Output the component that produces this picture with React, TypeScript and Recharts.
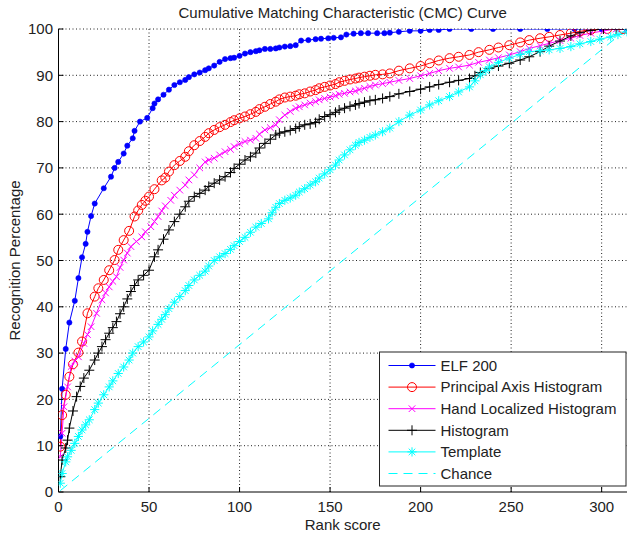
import React from 'react';
import { LineChart, Line, XAxis, YAxis, CartesianGrid } from 'recharts';

const TITLE = 'Cumulative Matching Characteristic (CMC) Curve';
const X_LABEL = 'Rank score';
const Y_LABEL = 'Recognition Percentage';
const X_TICKS = [0, 50, 100, 150, 200, 250, 300];
const Y_TICKS = [0, 10, 20, 30, 40, 50, 60, 70, 80, 90, 100];

const elfRanks = [1, 2, 4, 6, 9, 11, 13, 15, 16, 18, 20, 25, 29, 31, 33, 36, 38, 41, 42, 45, 49, 52, 53, 55, 58, 61, 64, 67, 70, 72, 75, 78, 81, 83, 86, 89, 92, 95, 97, 100, 103, 106, 109, 111, 114, 117, 120, 122, 125, 128, 131, 134, 138, 142, 145, 149, 152, 156, 159, 163, 167, 171, 176, 180, 183, 188, 194, 200, 205, 210, 216, 228, 240, 255, 270, 285, 300, 314];
const elfValues = [12, 22.3, 30.9, 36.6, 41.3, 46.2, 50.7, 53.6, 56.2, 59.6, 62.3, 65.6, 68.1, 70, 71.3, 73.1, 74.8, 76.4, 78, 80, 80.8, 82.9, 83.9, 84.8, 85.8, 86.9, 87.9, 88.5, 89, 89.6, 90.2, 90.6, 91.1, 91.5, 92.1, 92.9, 93.5, 93.7, 93.8, 94.2, 94.7, 95, 95.2, 95.4, 95.7, 95.7, 95.8, 96, 96.2, 96.3, 96.5, 97.5, 97.6, 97.8, 97.9, 98, 98.1, 98.2, 98.8, 99, 99.1, 99.1, 99.1, 99.1, 99.2, 99.4, 99.6, 99.6, 99.8, 99.8, 100, 100, 100, 100, 100, 100, 100, 100];

const pahRanks = [1, 2, 4, 6, 8, 11, 13, 16, 20, 22, 25, 28, 31, 33, 36, 39, 42, 44, 46, 48, 50, 53, 57, 59, 61, 64, 67, 70, 72, 75, 78, 81, 83, 86, 89, 92, 95, 97, 100, 103, 106, 109, 111, 114, 117, 120, 122, 125, 128, 131, 133, 136, 139, 142, 144, 147, 150, 153, 155, 158, 161, 164, 166, 169, 172, 175, 179, 183, 188, 194, 200, 205, 210, 216, 221, 227, 232, 238, 243, 249, 255, 260, 266, 271, 277, 283, 288, 294, 303, 312];
const pahValues = [9.8, 16.6, 21, 24.9, 27.6, 30.1, 32.5, 38.6, 42.2, 44, 45.8, 47.9, 50.1, 52.3, 54.4, 56.4, 59.5, 60.8, 62, 62.9, 63.8, 65.4, 67.3, 67.9, 69.2, 70.6, 71.5, 72.4, 73.6, 74.9, 75.8, 76.7, 77.5, 78.2, 78.8, 79.3, 79.9, 80.3, 80.7, 81.1, 81.6, 82.1, 82.7, 83.2, 83.8, 84.3, 84.8, 85.2, 85.4, 85.6, 85.9, 86.1, 86.5, 86.8, 87.2, 87.5, 87.8, 88.1, 88.5, 88.8, 89.1, 89.3, 89.5, 89.7, 89.9, 90.1, 90.2, 90.4, 91, 91.5, 92, 92.6, 93.2, 93.7, 94, 94.4, 95, 95.5, 96, 96.5, 97.1, 97.6, 98, 98.3, 98.7, 99.1, 99.5, 99.8, 100, 100];

const hlhRanks = [1, 2, 3, 5, 7, 9, 11, 14, 16, 18, 21, 24, 26, 28, 30, 32, 34, 36, 38, 40, 43, 46, 48, 51, 53, 55, 57, 59, 62, 64, 67, 70, 72, 75, 78, 81, 83, 86, 89, 92, 95, 97, 100, 103, 106, 109, 111, 114, 117, 120, 122, 125, 128, 131, 133, 136, 139, 142, 144, 147, 150, 153, 155, 158, 161, 164, 166, 169, 172, 175, 179, 183, 188, 194, 200, 205, 210, 216, 221, 227, 232, 238, 243, 249, 255, 260, 266, 271, 277, 283, 288, 294, 301, 308, 314];
const hlhValues = [7.6, 12.7, 18.4, 22.7, 27.1, 28.3, 29.2, 32.1, 34, 35.7, 38.6, 41.5, 43, 44.3, 45.5, 46.5, 48.5, 50.1, 51.6, 53, 54.1, 55.1, 56.2, 57.3, 58.4, 59.5, 60.7, 61.8, 63, 64.1, 65.2, 66.3, 67.4, 68.5, 70, 71.3, 71.7, 72.1, 72.8, 73.5, 74, 74.6, 75.2, 75.7, 76, 76.4, 77.3, 78.2, 78.7, 79.3, 80.4, 81.4, 82.2, 82.9, 83.2, 83.6, 84, 84.3, 84.7, 85, 85.3, 85.6, 85.9, 86.1, 86.4, 86.6, 86.9, 87.2, 87.6, 87.9, 88.2, 88.5, 88.9, 89.3, 89.9, 90.4, 91, 91.5, 91.8, 92.2, 92.8, 93.3, 93.8, 94.4, 95.1, 95.8, 96.4, 96.9, 97.5, 98, 98.6, 99.1, 99.6, 100, 100];

const histRanks = [1, 2, 4, 5, 6, 8, 10, 12, 14, 17, 20, 22, 24, 26, 28, 30, 32, 34, 36, 38, 40, 42, 44, 47, 50, 53, 55, 58, 61, 64, 67, 70, 72, 75, 78, 81, 83, 86, 89, 92, 95, 97, 100, 103, 106, 109, 111, 114, 117, 120, 122, 125, 128, 131, 133, 136, 139, 142, 144, 147, 150, 153, 155, 158, 161, 164, 166, 169, 172, 175, 179, 183, 188, 194, 200, 205, 210, 216, 221, 227, 230, 233, 238, 243, 249, 255, 260, 266, 271, 277, 283, 288, 294, 301, 308, 314];
const histValues = [3.3, 6.9, 9.5, 11.2, 13.8, 17.5, 20.6, 22.8, 24.6, 26.3, 28.5, 30, 31.4, 32.9, 34.3, 35.5, 36.8, 38.5, 40, 41.7, 43.3, 44.6, 45.8, 46.8, 47.9, 50.8, 52.3, 54.6, 56.6, 58.4, 60, 61.6, 62.8, 63.8, 64.5, 65.2, 66, 66.7, 67.4, 68.1, 69, 69.9, 70.8, 71.7, 72.4, 73.2, 74.3, 75.3, 76.2, 77.1, 77.5, 77.8, 78.1, 78.5, 78.9, 79.3, 79.5, 79.8, 80.5, 81.1, 81.5, 82, 82.5, 82.9, 83.3, 83.6, 83.9, 84.2, 84.5, 84.7, 85, 85.4, 86, 86.5, 87, 87.5, 88, 88.5, 88.9, 89.3, 89.9, 90.6, 91.5, 92, 92.6, 93.3, 94, 95.1, 96.3, 97.4, 98.5, 99.2, 99.7, 100, 100, 100];

const tmplRanks = [1, 2, 4, 5, 7, 9, 11, 13, 15, 17, 20, 22, 25, 28, 30, 33, 36, 39, 41, 44, 47, 50, 52, 55, 57, 59, 61, 64, 67, 70, 72, 75, 78, 81, 83, 86, 89, 92, 95, 97, 100, 103, 106, 109, 112, 116, 118, 120, 122, 125, 128, 131, 133, 136, 139, 142, 144, 147, 150, 153, 155, 158, 161, 164, 166, 169, 172, 175, 179, 183, 188, 194, 200, 205, 210, 216, 221, 227, 230, 233, 236, 238, 243, 249, 255, 260, 266, 271, 277, 283, 288, 294, 299, 305, 309, 314];
const tmplValues = [1.9, 4, 6.5, 7.6, 9, 10.5, 12, 13.4, 14.5, 15.6, 17.8, 19.2, 21, 22.7, 24, 25.6, 27, 28.5, 30, 31.4, 32.4, 33.5, 34.8, 36.2, 37.3, 38.3, 39.6, 41, 42.2, 43.5, 44.6, 45.8, 46.8, 47.7, 48.8, 50, 50.8, 51.5, 52.4, 53.2, 54.1, 55, 56.1, 57.2, 58, 59, 60.3, 61.5, 62.3, 63, 63.5, 64.1, 64.8, 65.5, 66.3, 67, 67.8, 68.7, 69.6, 70.6, 71.7, 72.8, 73.9, 74.9, 75.5, 76, 76.6, 77.1, 77.8, 78.6, 80, 81.4, 82.5, 83.6, 84.5, 85.4, 86.4, 87.5, 88.8, 90.1, 91, 91.8, 92.8, 93.7, 94.5, 95.1, 95.3, 95.5, 95.8, 96.2, 96.8, 97.3, 97.8, 98.3, 98.8, 99.4];

const chanceRanks = [1, 314];
const chanceValues = [0.3, 100];

const toData = (xs: number[], ys: number[]) => xs.map((x, i) => ({ x, y: ys[i] }));

type MarkerKind = 'dot' | 'circle' | 'x' | 'plus' | 'star' | 'none';

const Marker = ({ kind, cx, cy, color }: { kind: MarkerKind; cx: number; cy: number; color: string }) => {
  if (kind === 'dot') return <circle cx={cx} cy={cy} r={2.6} fill={color} stroke={color} strokeWidth={0.6} />;
  if (kind === 'circle') return <circle cx={cx} cy={cy} r={4.5} fill="none" stroke={color} strokeWidth={1} />;
  if (kind === 'x') {
    const s = 3.3;
    return (
      <g stroke={color} strokeWidth={1}>
        <line x1={cx - s} y1={cy - s} x2={cx + s} y2={cy + s} />
        <line x1={cx - s} y1={cy + s} x2={cx + s} y2={cy - s} />
      </g>
    );
  }
  if (kind === 'plus') {
    const s = 5;
    return (
      <g stroke={color} strokeWidth={1}>
        <line x1={cx - s} y1={cy} x2={cx + s} y2={cy} />
        <line x1={cx} y1={cy - s} x2={cx} y2={cy + s} />
      </g>
    );
  }
  if (kind === 'star') {
    const s = 4.6;
    const d = 3.3;
    return (
      <g stroke={color} strokeWidth={1}>
        <line x1={cx - s} y1={cy} x2={cx + s} y2={cy} />
        <line x1={cx} y1={cy - s} x2={cx} y2={cy + s} />
        <line x1={cx - d} y1={cy - d} x2={cx + d} y2={cy + d} />
        <line x1={cx - d} y1={cy + d} x2={cx + d} y2={cy - d} />
      </g>
    );
  }
  return null;
};

const SERIES = [
  { name: 'ELF 200', color: '#0000ff', marker: 'dot' as MarkerKind, data: toData(elfRanks, elfValues), dash: undefined as string | undefined },
  { name: 'Principal Axis Histogram', color: '#ff0000', marker: 'circle' as MarkerKind, data: toData(pahRanks, pahValues), dash: undefined },
  { name: 'Hand Localized Histogram', color: '#ff00ff', marker: 'x' as MarkerKind, data: toData(hlhRanks, hlhValues), dash: undefined },
  { name: 'Histogram', color: '#000000', marker: 'plus' as MarkerKind, data: toData(histRanks, histValues), dash: undefined },
  { name: 'Template', color: '#00ffff', marker: 'star' as MarkerKind, data: toData(tmplRanks, tmplValues), dash: undefined },
  { name: 'Chance', color: '#00ffff', marker: 'none' as MarkerKind, data: toData(chanceRanks, chanceValues), dash: '9 6' },
];

const FONT = '"Liberation Sans", Arial, Helvetica, sans-serif';
const W = 627;
const H = 538;
const PLOT_TOP = 29;
const AXIS_W = 58.5;
const AXIS_H = 46;

const XTick = (props: any) => {
  const { x, y, payload } = props;
  return (
    <g>
      <line x1={x} x2={x} y1={y} y2={y - 5} stroke="#000" strokeWidth={1} />
      <text x={x} y={y + 19.5} textAnchor="middle" fontSize={15} fontFamily={FONT} fill="#222">
        {payload.value}
      </text>
    </g>
  );
};

const YTick = (props: any) => {
  const { x, y, payload } = props;
  return (
    <g>
      <line x1={x} x2={x + 5} y1={y} y2={y} stroke="#000" strokeWidth={1} />
      <text x={x - 5.5} y={y + 5.3} textAnchor="end" fontSize={15} fontFamily={FONT} fill="#222">
        {payload.value}
      </text>
    </g>
  );
};

const LEG = { left: 379.5, top: 352, width: 246.5, height: 134, rowStart: 13.5, rowGap: 21.6 };

export default function App() {
  return (
    <div style={{ position: 'absolute', left: 0, top: 0, width: W, height: H, background: '#fff' }}>
      <LineChart width={W} height={H} margin={{ top: PLOT_TOP, right: 0, left: 0, bottom: 0 }}>
        <CartesianGrid stroke="#222" strokeDasharray="1 2.5" strokeWidth={1} verticalValues={[50, 100, 150, 200, 250, 300]} horizontalValues={[10, 20, 30, 40, 50, 60, 70, 80, 90, 100]} />
        <XAxis
          type="number"
          dataKey="x"
          domain={[0, 314]}
          ticks={X_TICKS}
          allowDataOverflow
          height={AXIS_H}
          tickLine={false}
          tickSize={0}
          tickMargin={0}
          tick={<XTick />}
          axisLine={{ stroke: '#000', strokeWidth: 1 }}
          interval={0}
        />
        <YAxis
          type="number"
          dataKey="y"
          domain={[0, 100]}
          ticks={Y_TICKS}
          allowDataOverflow
          width={AXIS_W}
          tickLine={false}
          tickSize={0}
          tickMargin={0}
          tick={<YTick />}
          axisLine={{ stroke: '#000', strokeWidth: 1 }}
          interval={0}
        />
        {SERIES.map((s) => (
          <Line
            key={s.name}
            data={s.data}
            dataKey="y"
            type="linear"
            stroke={s.color}
            strokeWidth={1}
            strokeDasharray={s.dash}
            isAnimationActive={false}
            activeDot={false}
            dot={
              s.marker === 'none'
                ? false
                : (p: any) => <Marker key={`${s.name}-${p.index}`} kind={s.marker} cx={p.cx} cy={p.cy} color={s.color} />
            }
          />
        ))}
      </LineChart>
      <svg width={W} height={H} style={{ position: 'absolute', left: 0, top: 0, pointerEvents: 'none' }}>
        <text x={342.7} y={17.5} textAnchor="middle" fontSize={15} fontFamily={FONT} fill="#222">{TITLE}</text>
        <text x={342.7} y={530} textAnchor="middle" fontSize={15} fontFamily={FONT} fill="#222">{X_LABEL}</text>
        <text transform="translate(19.5, 260.5) rotate(-90)" textAnchor="middle" fontSize={15} fontFamily={FONT} fill="#222">{Y_LABEL}</text>
        <g transform={`translate(${LEG.left}, ${LEG.top})`}>
          <rect x={0} y={0} width={LEG.width} height={LEG.height} fill="#fff" stroke="#222" strokeWidth={1} />
          {SERIES.map((s, i) => {
            const cy = LEG.rowStart + i * LEG.rowGap;
            return (
              <g key={s.name}>
                <line x1={9} x2={56} y1={cy} y2={cy} stroke={s.color} strokeWidth={1} strokeDasharray={s.dash} />
                <Marker kind={s.marker} cx={32.5} cy={cy} color={s.color} />
                <text x={61} y={cy + 5.3} fontSize={15} fontFamily={FONT} fill="#222">{s.name}</text>
              </g>
            );
          })}
        </g>
      </svg>
    </div>
  );
}
